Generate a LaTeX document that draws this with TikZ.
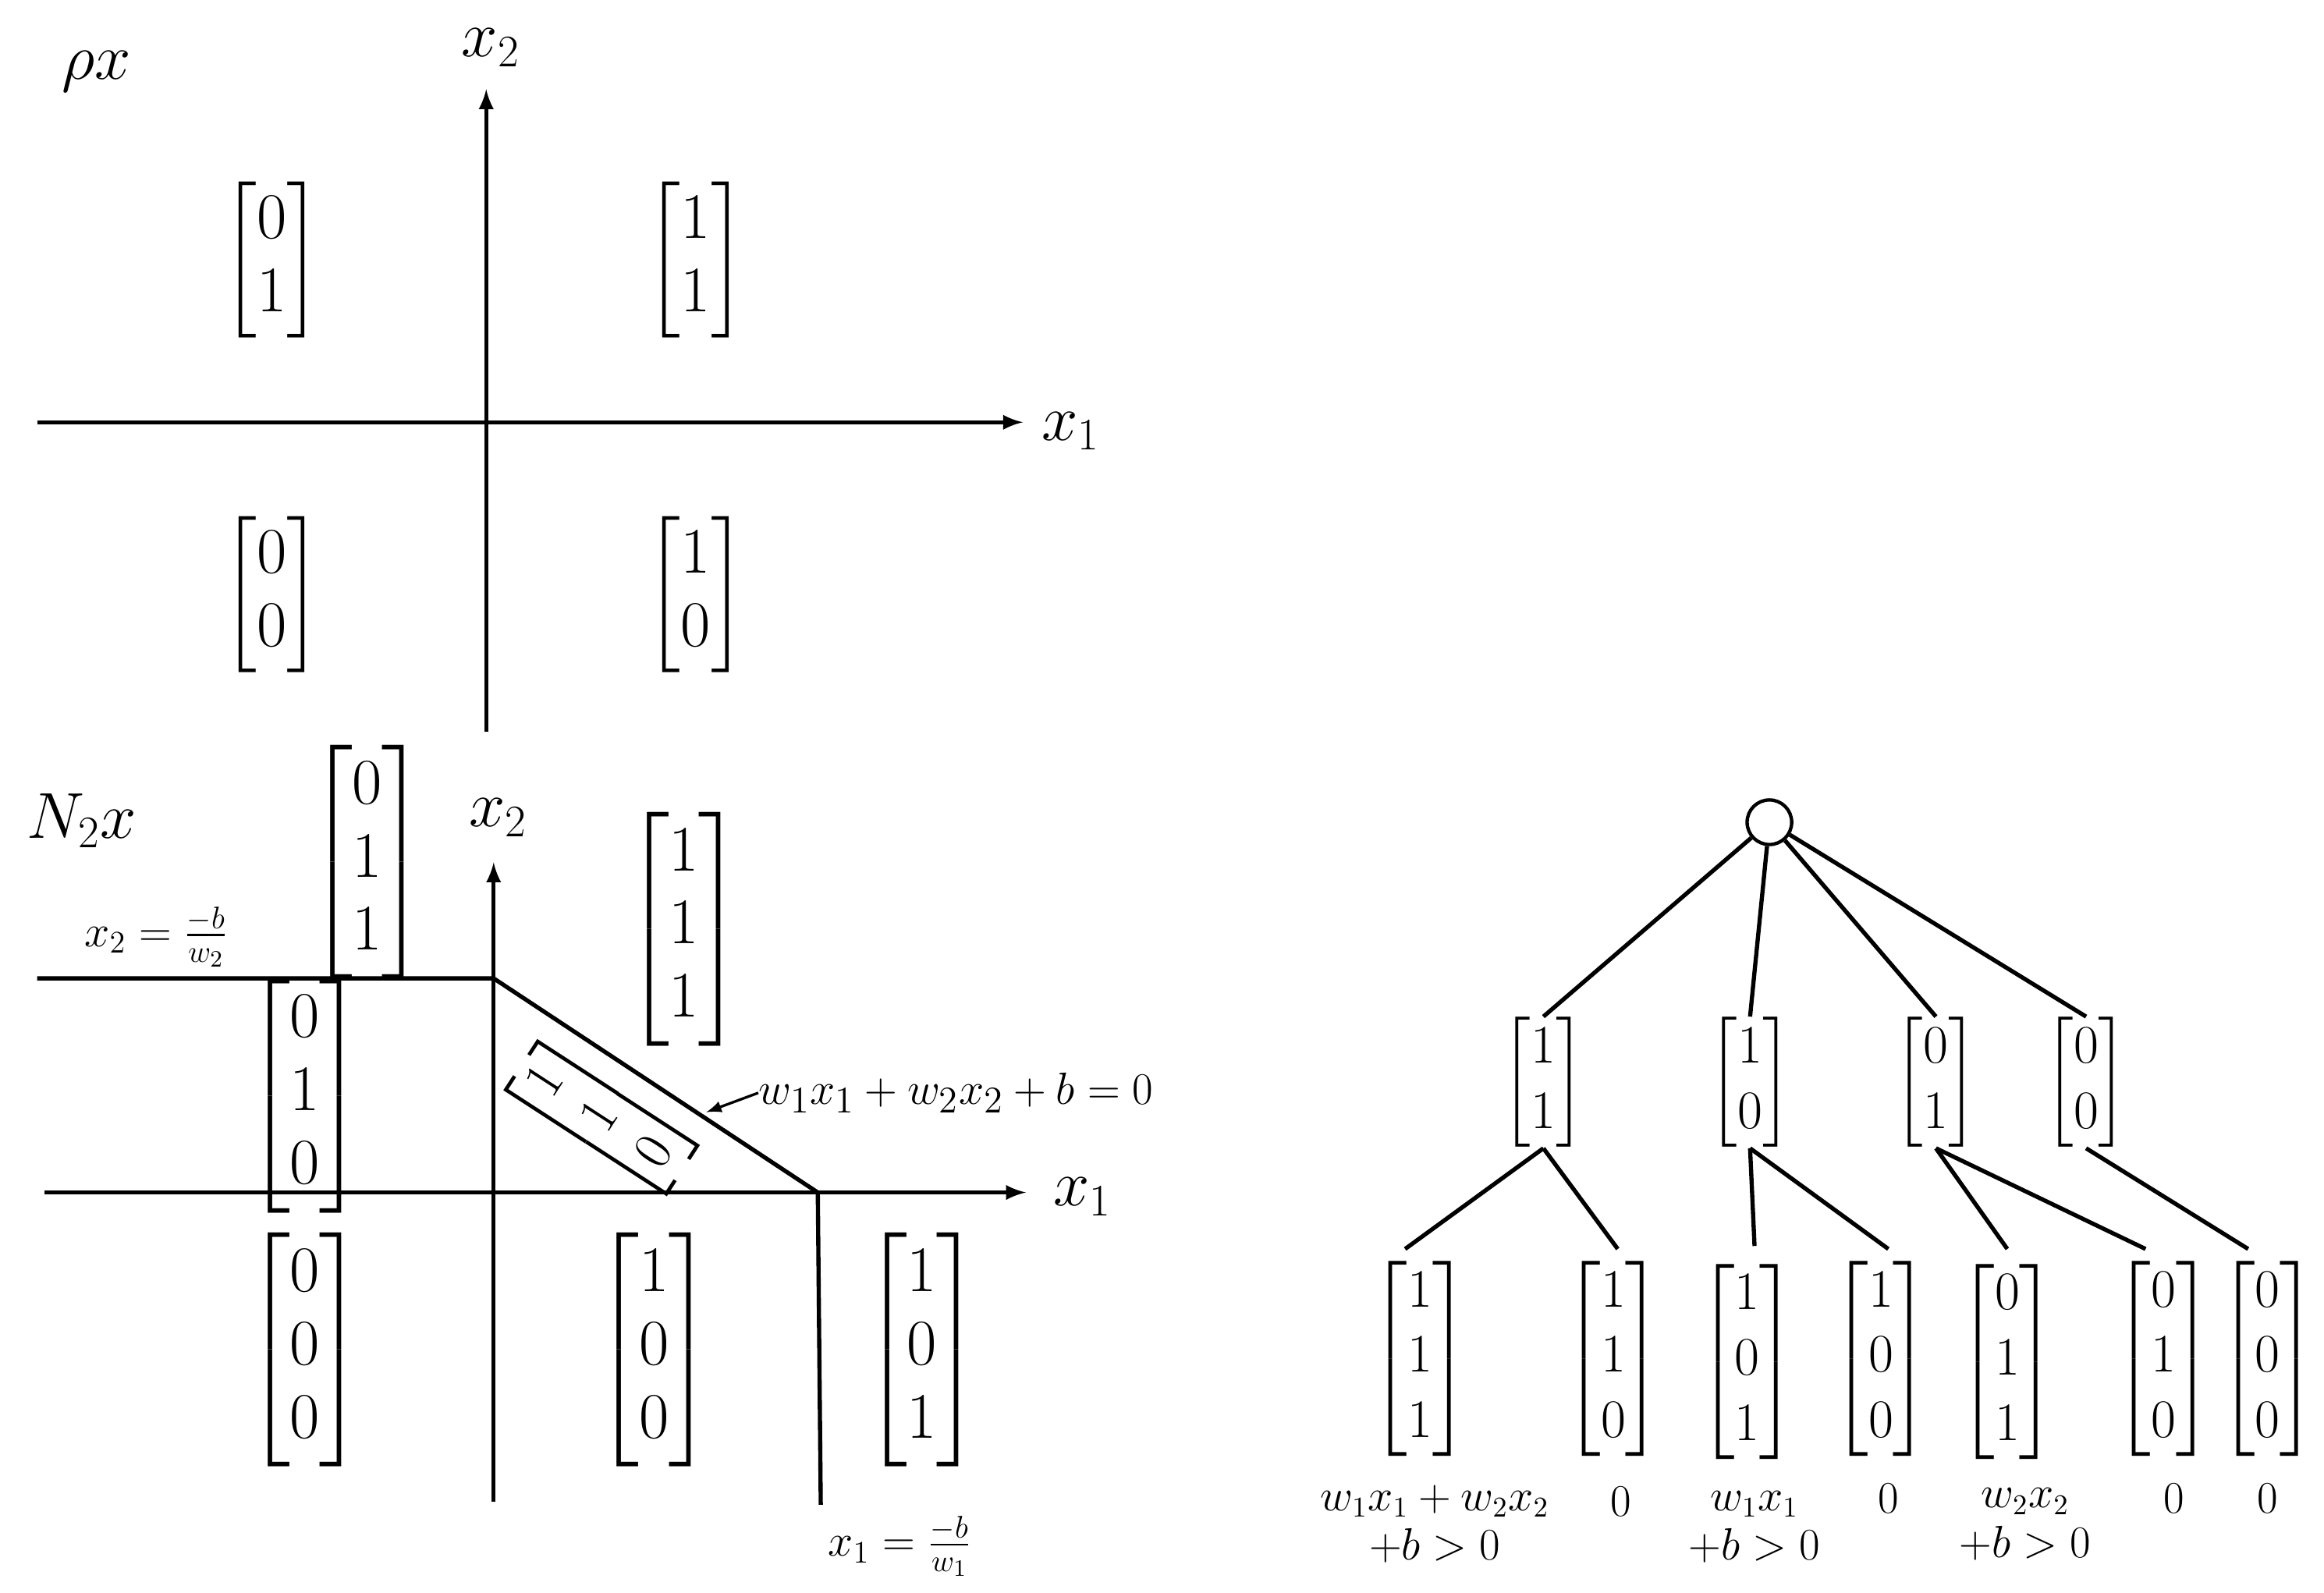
\documentclass[tikz,border=0pt]{standalone}
\usepackage{amsmath}
\begin{document}
\begin{tikzpicture}[x=0.02cm,y=-0.02cm,
  ax/.style={line width=1.6pt,-latex},
  ln/.style={line width=1.6pt},
  big/.style={font=\fontsize{24}{28}\selectfont,inner sep=0pt},
  mid/.style={font=\fontsize{21}{25}\selectfont,inner sep=0pt},
  lab/.style={font=\fontsize{16}{19}\selectfont,inner sep=0pt,align=center}]
\useasboundingbox (0,0) rectangle (1563,1071);
% top plot
\coordinate (hl) at (25,284); \coordinate (hr) at (688,284);
\coordinate (vb) at (327,492); \coordinate (vt) at (327,60);
\draw[ax] (hl) -- (hr); \draw[ax] (vb) -- (vt);
\node[big] (rho) at (65,48) {$\rho x$};
\node[big] (tx2) at (330,32) {$x_2$};
\node[big] (tx1) at (720,290) {$x_1$};
\node[big] (a01) at (183,175) {$\begin{bmatrix}0\\1\end{bmatrix}$};
\node[big] (a11) at (468,175) {$\begin{bmatrix}1\\1\end{bmatrix}$};
\node[big] (a00) at (183,400) {$\begin{bmatrix}0\\0\end{bmatrix}$};
\node[big] (a10) at (468,400) {$\begin{bmatrix}1\\0\end{bmatrix}$};
% bottom left
\coordinate (bl) at (30,802); \coordinate (br) at (690,802);
\coordinate (bb) at (332,1010); \coordinate (bt) at (332,580);
\draw[ax] (bl) -- (br); \draw[ax] (bb) -- (bt);
\coordinate (p1) at (25,658); \coordinate (p2) at (332,658);
\coordinate (p3) at (550,802); \coordinate (p4) at (552,1012);
\draw[ln] (p1) -- (p2) -- (p3) -- (p4);
\node[big] (N2) at (55,552) {$N_2x$};
\node[big] (bx2) at (335,550) {$x_2$};
\node[big] (bx1) at (728,805) {$x_1$};
\node[lab,font=\fontsize{18}{21}\selectfont] (lx2) at (105,630) {$x_2=\frac{-b}{w_2}$};
\node[lab,font=\fontsize{18}{21}\selectfont] (lx1) at (605,1040) {$x_1=\frac{-b}{w_1}$};
\node[lab,font=\fontsize{19}{22}\selectfont,anchor=west] (eq) at (510,735) {$w_1x_1+w_2x_2+b=0$};
\coordinate (eqt) at (475,748);
\draw[line width=1pt,-latex] (eq.west) -- (eqt);
\node[big] (b011) at (247,580) {$\begin{bmatrix}0\\1\\1\end{bmatrix}$};
\node[big] (b111) at (460,625) {$\begin{bmatrix}1\\1\\1\end{bmatrix}$};
\node[big] (b010) at (205,737) {$\begin{bmatrix}0\\1\\0\end{bmatrix}$};
\node[big,rotate=57,font=\fontsize{21}{25}\selectfont] (b110) at (405,752) {$\begin{bmatrix}1\\1\\0\end{bmatrix}$};
\node[big] (b000) at (205,908) {$\begin{bmatrix}0\\0\\0\end{bmatrix}$};
\node[big] (b100) at (440,908) {$\begin{bmatrix}1\\0\\0\end{bmatrix}$};
\node[big] (b101) at (620,908) {$\begin{bmatrix}1\\0\\1\end{bmatrix}$};
% tree
\node[draw,circle,line width=1.3pt,minimum size=30*0.02cm,inner sep=0pt] (root) at (1190,553) {};
\node[mid] (t11) at (1038,728) {$\begin{bmatrix}1\\1\end{bmatrix}$};
\node[mid] (t10) at (1177,728) {$\begin{bmatrix}1\\0\end{bmatrix}$};
\node[mid] (t01) at (1302,728) {$\begin{bmatrix}0\\1\end{bmatrix}$};
\node[mid] (t00) at (1403,728) {$\begin{bmatrix}0\\0\end{bmatrix}$};
\foreach \n in {t11,t10,t01,t00} \draw[ln] (root) -- (\n.north);
\node[mid] (u1) at (955,914) {$\begin{bmatrix}1\\1\\1\end{bmatrix}$};
\node[mid] (u2) at (1085,914) {$\begin{bmatrix}1\\1\\0\end{bmatrix}$};
\node[mid] (u3) at (1175,916) {$\begin{bmatrix}1\\0\\1\end{bmatrix}$};
\node[mid] (u4) at (1265,914) {$\begin{bmatrix}1\\0\\0\end{bmatrix}$};
\node[mid] (u5) at (1350,916) {$\begin{bmatrix}0\\1\\1\end{bmatrix}$};
\node[mid] (u6) at (1455,914) {$\begin{bmatrix}0\\1\\0\end{bmatrix}$};
\node[mid] (u7) at (1525,914) {$\begin{bmatrix}0\\0\\0\end{bmatrix}$};
\coordinate (u1t) at (945,840); \coordinate (u2t) at (1088,840);
\coordinate (u3t) at (1180,838); \coordinate (u4t) at (1270,840);
\coordinate (u5t) at (1350,840); \coordinate (u6t) at (1443,840);
\coordinate (u7t) at (1512,840);
\draw[ln] (t11.south) -- (u1t); \draw[ln] (t11.south) -- (u2t);
\draw[ln] (t10.south) -- (u3t); \draw[ln] (t10.south) -- (u4t);
\draw[ln] (t01.south) -- (u5t); \draw[ln] (t01.south) -- (u6t);
\draw[ln] (t00.south) -- (u7t);
\node[lab] (l1) at (965,1025) {$w_1x_1+w_2x_2$\\$+b>0$};
\node[lab] (l2) at (1090,1010) {$0$};
\node[lab] (l3) at (1180,1027) {$w_1x_1$\\$+b>0$};
\node[lab] (l4) at (1270,1008) {$0$};
\node[lab] (l5) at (1362,1025) {$w_2x_2$\\$+b>0$};
\node[lab] (l6) at (1462,1008) {$0$};
\node[lab] (l7) at (1525,1008) {$0$};
\end{tikzpicture}
\end{document}
